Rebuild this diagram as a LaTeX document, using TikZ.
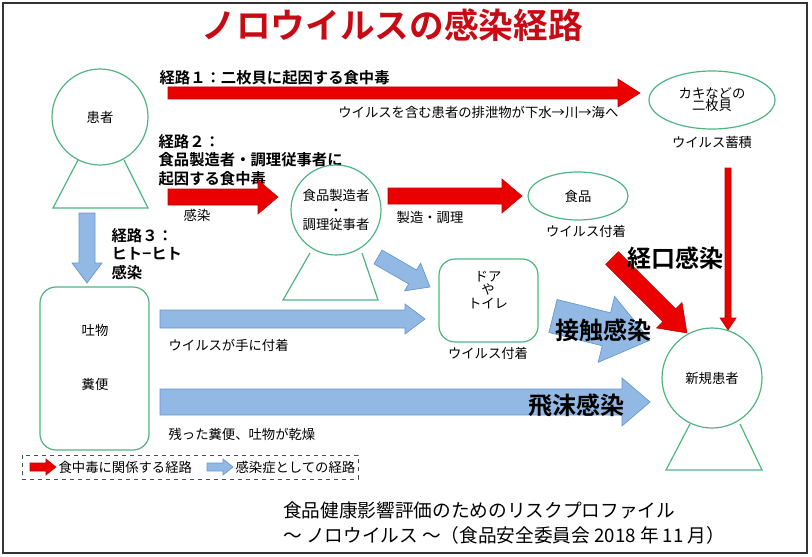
\documentclass[tikz,border=0pt]{standalone}
\usepackage{fontspec}
\setmainfont{Noto Sans CJK JP}[BoldFont={Noto Sans CJK JP Bold}]
\definecolor{gr}{RGB}{80,180,130}
\definecolor{bl}{RGB}{145,185,228}
\definecolor{bld}{RGB}{100,150,210}
\definecolor{rd}{RGB}{235,0,0}
\definecolor{ttl}{RGB}{200,10,20}
\newcommand\fatarrow[7]{\filldraw[#1,shift={#2},rotate=#3] (0,-#5) -- ({#4-#7},-#5) -- ({#4-#7},-#6) -- (#4,0) -- ({#4-#7},#6) -- ({#4-#7},#5) -- (0,#5) -- cycle;}
\tikzset{person/.style={draw=gr,line width=0.9pt},
 redarr/.style={fill=rd,draw=rd!80!black,line width=0.4pt},
 bluearr/.style={fill=bl,draw=bld,line width=0.5pt},
 lbl/.style={font=\fontsize{10}{12}\selectfont,inner sep=1pt},
 route/.style={font=\bfseries\fontsize{11.5}{14}\selectfont,align=left,inner sep=1pt},
 big/.style={font=\bfseries\fontsize{18}{20}\selectfont,inner sep=1pt}}
\begin{document}
\begin{tikzpicture}[x=0.75pt,y=-0.75pt]
\useasboundingbox (0,0) rectangle (812,556);
\draw[line width=1pt,black!80] (3,3) rectangle (807,553);
\node[text=ttl,font=\bfseries\fontsize{26}{28}\selectfont] (title) at (392,25) {ノロウイルスの感染経路};
% patient
\draw[person] (100,117) circle (48);
\draw[person] (78,160) -- (53,208) -- (148,208) -- (124,160);
\node[lbl] (p1) at (100,117) {患者};
% route 1
\fatarrow{redarr}{(168,93)}{0}{472}{6}{14}{22}
\node[route,anchor=west] (r1) at (158,78) {経路１：二枚貝に起因する食中毒};
\node[lbl,anchor=east] (r1b) at (620,112) {ウイルスを含む患者の排泄物が下水→川→海へ};
\draw[person] (712,100) ellipse (63 and 29);
\node[lbl,align=center] (oy) at (712,100) {カキなどの\\[-3pt]二枚貝};
\node[lbl] (oyb) at (712,142) {ウイルス蓄積};
% route 2
\node[route,anchor=west] (r2) at (157,160) {経路２：\\食品製造者・調理従事者に\\起因する食中毒};
\fatarrow{redarr}{(168,197)}{0}{110}{8}{17}{20}
\node[lbl] (inf) at (197,215) {感染};
\draw[person] (336,210) circle (45);
\draw[person] (310,253) -- (283,300) -- (378,300) -- (362,253);
\node[lbl,align=center] (fw) at (336,210) {食品製造者\\[-1pt]・\\[-1pt]調理従事者};
\fatarrow{redarr}{(388,196)}{0}{134}{8}{17}{20}
\node[lbl] (mk) at (430,217) {製造・調理};
\draw[person] (578,196) ellipse (50 and 24);
\node[lbl] (fd) at (578,196) {食品};
\node[lbl] (fdb) at (586,231) {ウイルス付着};
% oral
\fatarrow{redarr}{(728,168)}{-90}{162}{3}{8}{12}
\fatarrow{redarr}{(612,258)}{-45}{106}{9}{18}{25}
\node[big] (oral) at (675,258) {経口感染};
% route 3
\fatarrow{bluearr}{(87,213)}{-90}{70}{8}{15}{20}
\node[route,anchor=west] (r3) at (110,254) {経路３：\\ヒト−ヒト\\感染};
\draw[person,rounded corners=12pt] (40,287) rectangle (149,450);
\node[lbl] (vm) at (95,330) {吐物};
\node[lbl] (fc) at (95,384) {糞便};
\fatarrow{bluearr}{(160,319)}{0}{265}{9}{15}{20}
\node[lbl,anchor=west] (hand) at (167,345) {ウイルスが手に付着};
\fatarrow{bluearr}{(378,257)}{-30}{60}{8}{16}{20}
\draw[person,rounded corners=12pt] (439,259) rectangle (538,342);
\node[lbl,align=center] (door) at (488,290) {ドア\\[-2pt]や\\[-2pt]トイレ};
\node[lbl] (doorb) at (488,353) {ウイルス付着};
\fatarrow{bluearr}{(553,316)}{-14}{100}{17}{34}{45}
\node[big] (touch) at (603,330) {接触感染};
\fatarrow{bluearr}{(160,402)}{0}{490}{13}{24}{28}
\node[big] (drop) at (576,405) {飛沫感染};
\node[lbl,anchor=west] (dry) at (167,434) {残った糞便、吐物が乾燥};
% new patient
\draw[person] (712,378) circle (50);
\draw[person] (690,424) -- (666,470) -- (762,470) -- (740,424);
\node[lbl] (np) at (712,378) {新規患者};
% legend
\draw[dashed,black!70] (22,455) rectangle (358,479);
\fatarrow{redarr}{(30,467)}{0}{26}{4}{8}{10}
\node[lbl,anchor=west] (lg1) at (57,467) {食中毒に関係する経路};
\fatarrow{bluearr}{(207,467)}{0}{26}{4}{8}{10}
\node[lbl,anchor=west] (lg2) at (234,467) {感染症としての経路};
% source
\node[anchor=west,font=\fontsize{14}{16}\selectfont,inner sep=0] (src1) at (283,510) {食品健康影響評価のためのリスクプロファイル};
\node[anchor=west,font=\fontsize{14}{16}\selectfont,inner sep=0] (src2) at (283,535) {～ ノロウイルス ～（食品安全委員会 2018 年 11 月）};
\end{tikzpicture}
\end{document}
